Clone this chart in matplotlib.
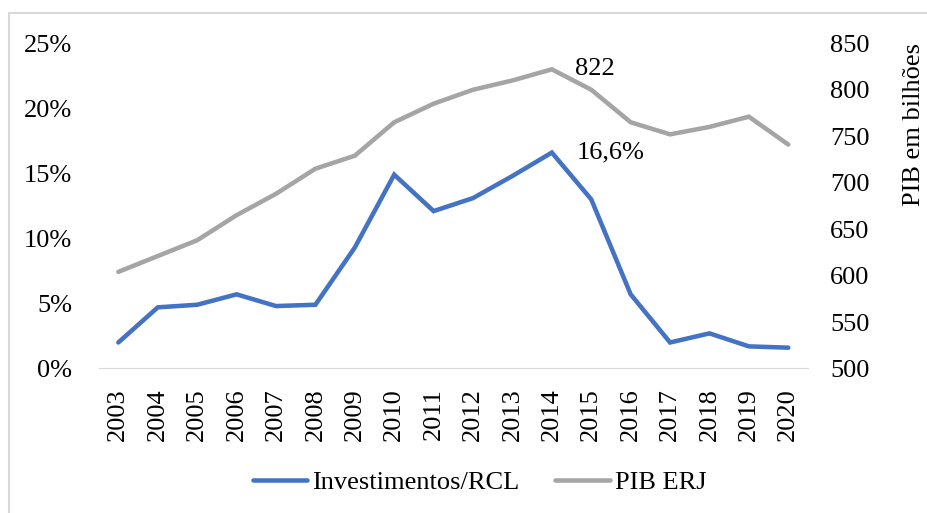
import matplotlib
matplotlib.use('Agg')
import matplotlib.pyplot as plt
from matplotlib.patches import Rectangle
from matplotlib.ticker import FuncFormatter, MultipleLocator

plt.rcParams['font.family'] = ['Liberation Serif', 'DejaVu Serif']

# data
years = ['2003', '2004', '2005', '2006', '2007', '2008', '2009', '2010', '2011',
         '2012', '2013', '2014', '2015', '2016', '2017', '2018', '2019', '2020']
invest_rcl = [2.0, 4.7, 4.9, 5.7, 4.8, 4.9, 9.3, 14.9, 12.1,
              13.1, 14.8, 16.6, 13.0, 5.7, 2.0, 2.7, 1.7, 1.6]  # %
pib_erj = [604, 621, 638, 665, 688, 715, 729, 765, 785,
           800, 810, 822, 800, 765, 752, 760, 771, 741]  # bilhoes

blue = '#4472C4'
gray = '#A5A5A5'
fs = 19

fig = plt.figure(figsize=(9.28, 5.13), dpi=100)
ax = fig.add_axes([0.1063, 0.2817, 0.7644, 0.6339])
ax2 = ax.twinx()

x = list(range(len(years)))
l1, = ax.plot(x, invest_rcl, color=blue, linewidth=3.25, solid_capstyle='round',
              solid_joinstyle='miter', label='Investimentos/RCL')
l2, = ax2.plot(x, pib_erj, color=gray, linewidth=3.25, solid_capstyle='round',
               solid_joinstyle='miter', label='PIB ERJ')

ax.set_xlim(-0.5, len(years) - 0.5)
ax.set_ylim(0, 25)
ax2.set_ylim(500, 850)
ax.yaxis.set_major_locator(MultipleLocator(5))
ax2.yaxis.set_major_locator(MultipleLocator(50))
ax.yaxis.set_major_formatter(FuncFormatter(lambda v, pos: '%d%%' % v))

ax.set_xticks(x)
ax.set_xticklabels(years, rotation=90)
ax.tick_params(axis='x', length=0, pad=14, labelsize=fs)
ax.tick_params(axis='y', length=0, pad=19, labelsize=fs)
ax2.tick_params(axis='y', length=0, pad=16, labelsize=fs)

for a in (ax, ax2):
    for s in ['top', 'left', 'right']:
        a.spines[s].set_visible(False)
ax.spines['bottom'].set_color('#D9D9D9')
ax2.spines['bottom'].set_visible(False)

# data labels at the 2014 peak
i = years.index('2014')
ax2.annotate('%d' % pib_erj[i], (x[i], pib_erj[i]), xytext=(17, 0),
             textcoords='offset points', ha='left', va='center', fontsize=fs)
ax.annotate(('%.1f%%' % invest_rcl[i]).replace('.', ','), (x[i], invest_rcl[i]),
            xytext=(18, 0), textcoords='offset points', ha='left', va='center',
            fontsize=fs)

# right axis title, pushed against the right edge
fig.text(0.997, 0.758, 'PIB em bilhões', rotation=90, ha='right', va='center',
         fontsize=fs)

fig.legend([l1, l2], ['Investimentos/RCL', 'PIB ERJ'], loc='center',
           bbox_to_anchor=(0.517, 0.0595), ncol=2, frameon=False, fontsize=fs,
           handlelength=2.05, handletextpad=0.2, columnspacing=1.35, borderpad=0)

# chart area border
fig.patches.append(Rectangle((0.0102, -0.1), 1.2, 1.0747, transform=fig.transFigure,
                             fill=False, edgecolor='#D9D9D9', linewidth=1.5))

plt.savefig('out.png', dpi=100)
